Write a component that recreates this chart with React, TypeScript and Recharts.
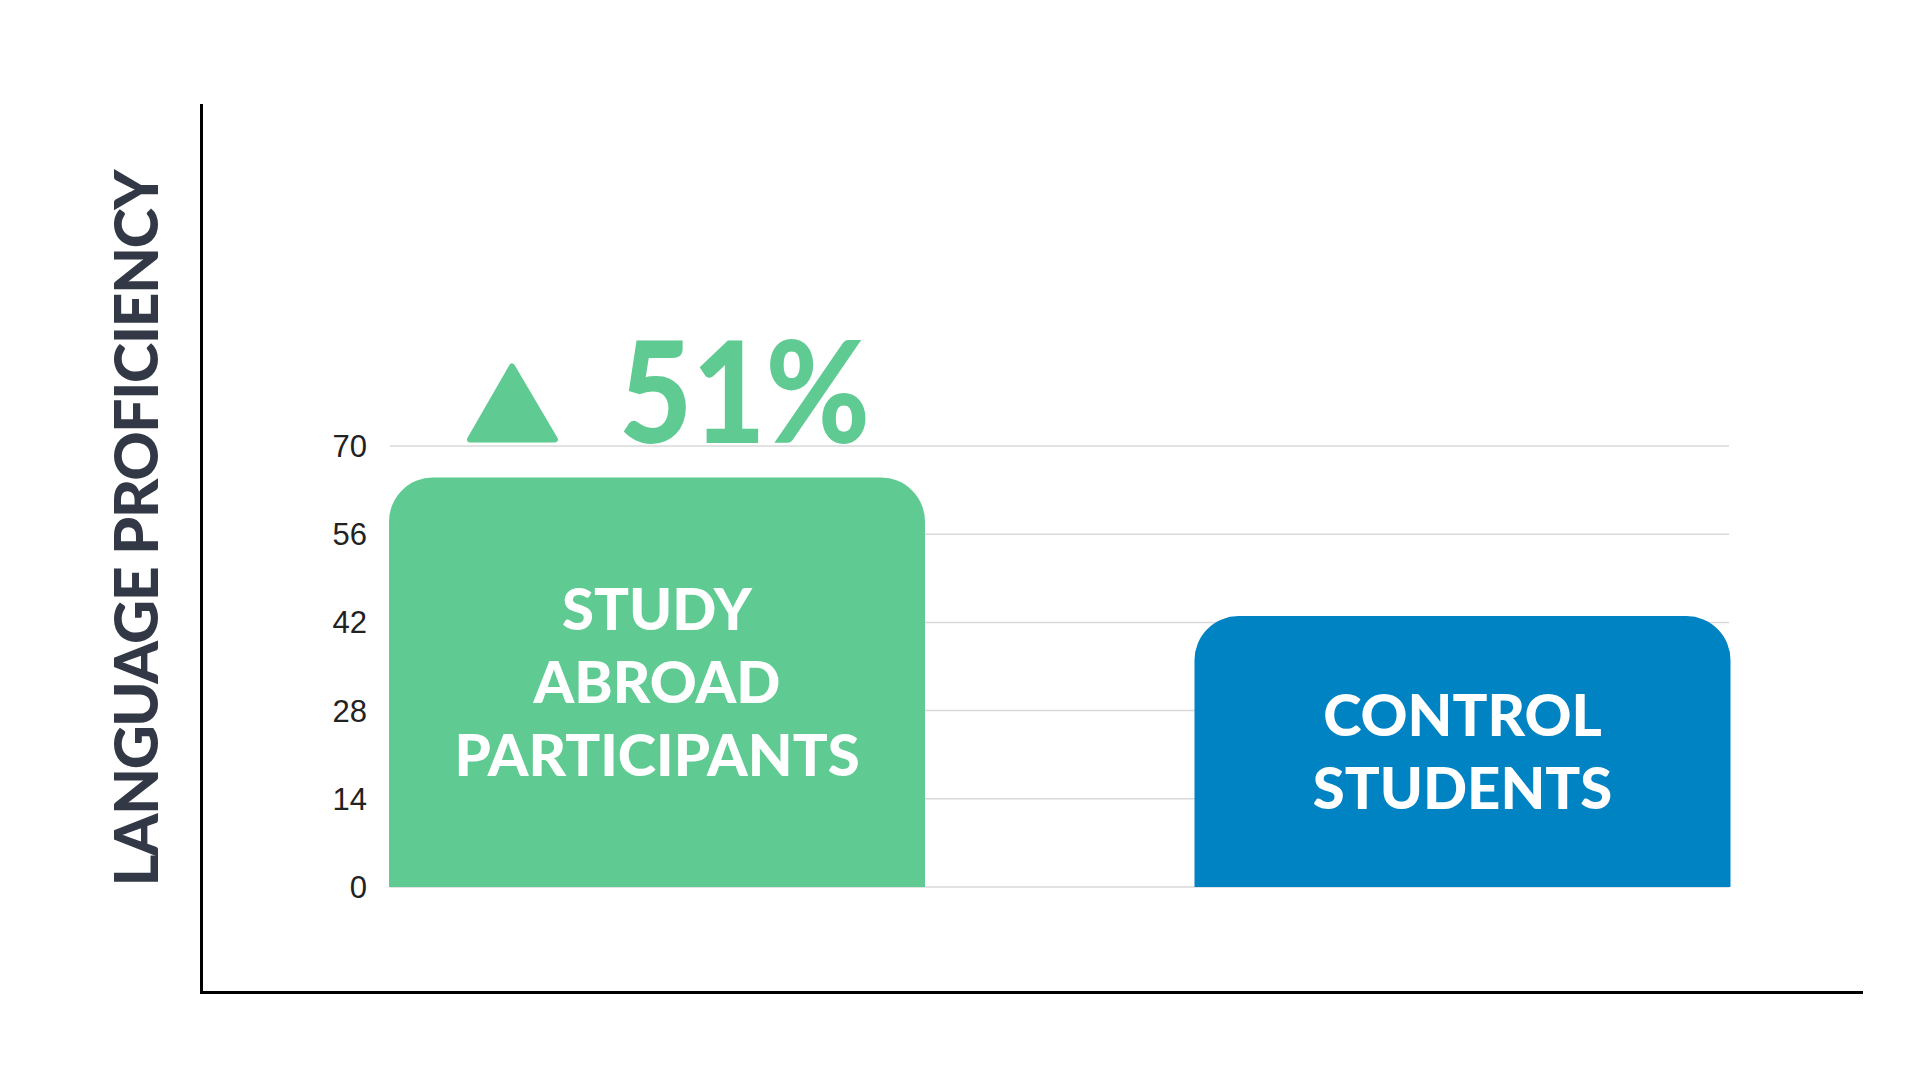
import React from 'react';
import { BarChart, Bar, XAxis, YAxis, CartesianGrid, LabelList, Cell } from 'recharts';

// data
const categories = ['STUDY ABROAD PARTICIPANTS', 'CONTROL STUDENTS'];
const proficiency = [65, 43];
const yTicks = [0, 14, 28, 42, 56, 70];

const barColors = ['#5FCB93', '#0083C3'];
const titleColor = '#333846';
const headFont = 'Lato, "Noto Sans", sans-serif';

const data = categories.map((name, i) => ({ name, value: proficiency[i] }));

// percentage gain of the first group over the second
const gain = Math.round(((proficiency[0] - proficiency[1]) / proficiency[1]) * 100);

const BarText = (props: any) => {
  const box = props.viewBox ?? props;
  const { x, y, width, height } = box;
  const words = String(props.value).split(' ');
  const fontSize = 58;
  const lineGap = 73;
  const cx = x + width / 2;
  const cy = y + height / 2;
  return (
    <g>
      {words.map((w: string, i: number) => (
        <text
          key={w}
          x={cx}
          y={cy + (i - (words.length - 1) / 2) * lineGap + fontSize * 0.36}
          textAnchor="middle"
          fill="#fff"
          fontFamily={headFont}
          fontWeight={900}
          fontSize={fontSize}
        >
          {w}
        </text>
      ))}
    </g>
  );
};

const GainMark = (props: any) => {
  if (props.index !== 0) return null;
  const box = props.viewBox ?? props;
  const { x, y } = box;
  const base = y - 38;
  const tri = `${x + 81},${base} ${x + 123},${y - 111} ${x + 166},${base}`;
  return (
    <g>
      <polygon points={tri} fill={barColors[0]} stroke={barColors[0]} strokeWidth={6} strokeLinejoin="round" />
      <text
        transform={`translate(${x + 230}, ${y - 35}) scale(0.89, 1)`}
        fill={barColors[0]}
        fontFamily={headFont}
        fontWeight={900}
        fontSize={142}
      >
        {gain}%
      </text>
    </g>
  );
};

const AxisTitle = () => (
  <text
    transform="translate(158, 528) rotate(-90)"
    textAnchor="middle"
    fill={titleColor}
    fontFamily={headFont}
    fontWeight={900}
    fontSize={61}
    textLength={717}
    lengthAdjust="spacing"
  >
    LANGUAGE PROFICIENCY
  </text>
);

export default function App() {
  return (
    <div style={{ position: 'absolute', left: 0, top: 0, width: 1920, height: 1080, background: '#fff' }}>
      <div
        style={{
          position: 'absolute',
          left: 200,
          top: 104,
          width: 1663,
          height: 890,
          borderLeft: '3px solid #000',
          borderBottom: '3px solid #000',
          boxSizing: 'border-box',
        }}
      />
      <div style={{ position: 'absolute', left: 0, top: 0 }}>
        <BarChart width={1920} height={1080} data={data} margin={{ top: 446, right: 191, bottom: 193, left: 0 }}>
          <CartesianGrid vertical={false} stroke="#D9D9D9" strokeWidth={1.5} />
          <XAxis dataKey="name" type="category" hide padding={{ left: -136, right: -136 }} />
          <YAxis
            width={390}
            domain={[0, 70]}
            ticks={yTicks}
            axisLine={false}
            tickLine={false}
            tickSize={6}
            tickMargin={17}
            tick={{ fill: '#222', fontSize: 31, fontFamily: '"Liberation Sans", Arial, sans-serif' }}
            label={{ content: AxisTitle }}
          />
          <Bar dataKey="value" barSize={536} radius={[44, 44, 0, 0]} isAnimationActive={false}>
            {data.map((d, i) => (
              <Cell key={d.name} fill={barColors[i]} />
            ))}
            <LabelList dataKey="name" content={BarText} />
            <LabelList dataKey="value" content={GainMark} />
          </Bar>
        </BarChart>
      </div>
    </div>
  );
}
